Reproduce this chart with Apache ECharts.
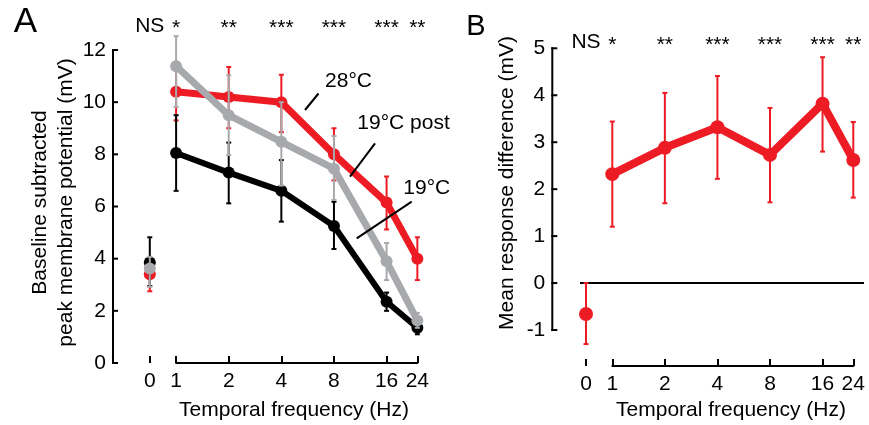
<!DOCTYPE html>
<html><head><meta charset="utf-8">
<script src="https://cdn.jsdelivr.net/npm/echarts@6/dist/echarts.min.js"></script>
<style>html,body{margin:0;padding:0;background:#fff}#c{width:869px;height:425px}</style>
</head><body><div id="c"></div><script>
// ---------- data ----------
const freqs = [0, 1, 2, 4, 8, 16, 24];
const freqLabels = ['0', '1', '2', '4', '8', '16', '24'];
const sigLabels = ['NS', '*', '**', '***', '***', '***', '**'];

// Panel A: 28°C
const warmMean = [3.4, 10.4, 10.2, 10.0, 8.0, 6.15, 4.0];
const warmLow  = [2.75, 9.3, 9.0, 8.85, 7.0, 5.12, 3.18];
const warmHigh = [3.95, 11.5, 11.35, 11.05, 9.0, 7.15, 4.82];
// Panel A: 19°C
const coolMean = [3.85, 8.05, 7.3, 6.6, 5.25, 2.35, 1.35];
const coolLow  = [2.95, 6.6, 6.12, 5.42, 4.37, 2.0, 1.1];
const coolHigh = [4.82, 9.5, 8.45, 7.78, 6.18, 2.7, 1.58];
// Panel A: 19°C post
const postMean = [3.62, 11.38, 9.5, 8.48, 7.45, 3.9, 1.63];
const postLow  = [2.92, 9.82, 7.97, 6.8, 6.25, 3.18, 1.35];
const postHigh = [4.07, 12.53, 11.03, 10.0, 8.7, 4.6, 1.92];
// Panel B: mean response difference
const diffMean = [-0.66, 2.32, 2.88, 3.32, 2.73, 3.82, 2.62];
const diffLow  = [-1.3, 1.2, 1.7, 2.22, 1.72, 2.8, 1.82];
const diffHigh = [0.0, 3.44, 4.05, 4.41, 3.73, 4.81, 3.43];

// y axis ticks
const yTicksA = [0, 2, 4, 6, 8, 10, 12];
const yTicksB = [-1, 0, 1, 2, 3, 4, 5];

// ---------- helpers ----------
const ZERO_POS = -0.5; // position of the 0 Hz point on the log2 axis (broken axis)
const xPos = f => f === 0 ? ZERO_POS : Math.log2(f);
const XMAX = Math.log2(24);
const FONT = '"Liberation Sans", Arial, Helvetica, sans-serif';
const RED = '#ED1C24', GRAY = '#A7A9AC', BLACK = '#000000';

const LA = { yAxisX: 113, x1: 176.1, ppo: 52.62, top: 50, bottom: 363, xAxisY: 363 };
const LB = { yAxisX: 552.3, x1: 612.3, ppo: 52.56, top: 48.3, bottom: 330, xAxisY: 366 };
LA.off = (LA.x1 - LA.yAxisX) / LA.ppo;
LB.off = (LB.x1 - LB.yAxisX) / LB.ppo;
LB.extraPx = 864; // right end of the zero line in panel B
LB.zeroStartPx = 580;

function xpx(L, v) { return L.x1 + L.ppo * v; }

const grids = [];
const xAxes = [];
const yAxes = [];
const series = [];

function tickLabel(v) {
  if (Math.abs(v - ZERO_POS) < 1e-6) return freqLabels[0];
  const f = Math.round(Math.pow(2, v));
  const i = freqs.indexOf(f);
  return i >= 0 ? freqLabels[i] : '';
}

function addPanel(L, yTicks, rightPx) {
  const gi = grids.length;
  const yMin = yTicks[0], yMax = yTicks[yTicks.length - 1];
  // main plot grid; x coordinate u = log2(f) + off, so u = 0 sits on the y axis
  grids.push({ left: L.yAxisX, top: L.top, width: rightPx - L.yAxisX, height: L.bottom - L.top });
  xAxes.push({ gridIndex: gi, type: 'value', min: 0, max: (rightPx - L.yAxisX) / L.ppo, show: false });
  yAxes.push({
    gridIndex: gi, type: 'value', min: yMin, max: yMax, interval: yTicks[1] - yTicks[0],
    axisLine: { show: false }, axisTick: { show: false },
    axisLabel: { show: true, margin: 7, color: BLACK, fontSize: 21, fontFamily: FONT },
    splitLine: { show: false }
  });
  // tick grid (0 .. 24)
  const x0 = xpx(L, ZERO_POS), xe = xpx(L, XMAX);
  grids.push({ left: x0, top: L.xAxisY - 1, width: xe - x0, height: 1 });
  const tickVals = freqs.map(xPos);
  xAxes.push({
    gridIndex: gi + 1, type: 'value', min: ZERO_POS, max: XMAX, position: 'bottom',
    axisLine: { show: false, onZero: false },
    axisTick: { show: true, inside: true, length: 7, lineStyle: { color: BLACK, width: 2 }, customValues: tickVals },
    axisLabel: { show: true, margin: 8, color: BLACK, fontSize: 21, fontFamily: FONT, customValues: tickVals, formatter: tickLabel },
    splitLine: { show: false }
  });
  yAxes.push({ gridIndex: gi + 1, type: 'value', show: false });
  // axis line grid (1 .. 24)
  const x1 = xpx(L, 0);
  grids.push({ left: x1, top: L.xAxisY - 1, width: xe - x1, height: 1 });
  xAxes.push({
    gridIndex: gi + 2, type: 'value', min: 0, max: XMAX, position: 'bottom',
    axisLine: { show: true, onZero: false, lineStyle: { color: BLACK, width: 2 } },
    axisTick: { show: false }, axisLabel: { show: false }, splitLine: { show: false }
  });
  yAxes.push({ gridIndex: gi + 2, type: 'value', show: false });
  return gi;
}

function errSeries(ai, L, low, high, color, z) {
  return {
    type: 'custom', xAxisIndex: ai, yAxisIndex: ai, z, clip: false, silent: true,
    data: freqs.map((f, i) => [xPos(f) + L.off, low[i], high[i]]),
    renderItem(params, api) {
      const x = api.value(0);
      const p1 = api.coord([x, api.value(1)]);
      const p2 = api.coord([x, api.value(2)]);
      const cw = 2.5, st = { stroke: color, lineWidth: 2 };
      return { type: 'group', children: [
        { type: 'line', shape: { x1: p1[0], y1: p1[1], x2: p2[0], y2: p2[1] }, style: st },
        { type: 'line', shape: { x1: p1[0] - cw, y1: p1[1], x2: p1[0] + cw, y2: p1[1] }, style: st },
        { type: 'line', shape: { x1: p2[0] - cw, y1: p2[1], x2: p2[0] + cw, y2: p2[1] }, style: st }
      ] };
    }
  };
}

function meanSeries(ai, L, mean, color, z, width, size) {
  const pts = freqs.map((f, i) => [xPos(f) + L.off, mean[i]]);
  return [
    {
      type: 'line', xAxisIndex: ai, yAxisIndex: ai, z, clip: false, silent: true,
      data: pts.slice(1), symbol: 'circle', symbolSize: size, showSymbol: true,
      lineStyle: { color, width, cap: 'round', join: 'round' }, itemStyle: { color, opacity: 1 }
    },
    {
      type: 'scatter', xAxisIndex: ai, yAxisIndex: ai, z, clip: false, silent: true,
      data: pts.slice(0, 1), symbol: 'circle', symbolSize: size, itemStyle: { color, opacity: 1 }
    }
  ];
}

function sigSeries(ai, L, yNS, yStar) {
  return {
    type: 'scatter', xAxisIndex: ai, yAxisIndex: ai, clip: false, silent: true, z: 20,
    symbolSize: 0, itemStyle: { opacity: 1 },
    data: freqs.map((f, i) => [xPos(f) + L.off, i === 0 ? yNS : yStar, sigLabels[i]]),
    label: { show: true, position: 'inside', color: BLACK, fontSize: 21, fontFamily: FONT,
      formatter: p => p.data[2] }
  };
}

// ---------- Panel A ----------
const a = addPanel(LA, yTicksA, xpx(LA, XMAX));
series.push(...meanSeries(a, LA, warmMean, RED, 2, 7, 12));
series.push(errSeries(a, LA, warmLow, warmHigh, RED, 3));
series.push(...meanSeries(a, LA, coolMean, BLACK, 4, 6, 12));
series.push(errSeries(a, LA, coolLow, coolHigh, BLACK, 5));
series.push(...meanSeries(a, LA, postMean, GRAY, 6, 7, 12));
series.push(errSeries(a, LA, postLow, postHigh, GRAY, 7));
series.push(sigSeries(a, LA, 12.92, 12.84));

// ---------- Panel B ----------
const b = addPanel(LB, yTicksB, LB.extraPx);
series.push({
  type: 'line', xAxisIndex: b, yAxisIndex: b, z: 1, clip: false, silent: true, symbol: 'none',
  data: [[(LB.zeroStartPx - LB.yAxisX) / LB.ppo, 0], [(LB.extraPx - LB.yAxisX) / LB.ppo, 0]],
  lineStyle: { color: BLACK, width: 2 }
});
series.push(...meanSeries(b, LB, diffMean, RED, 2, 8, 14));
series.push(errSeries(b, LB, diffLow, diffHigh, RED, 3));
series.push(sigSeries(b, LB, 5.13, 5.06));

// ---------- text annotations ----------
function txt(x, y, text, size, align, rot) {
  return { type: 'text', x, y, rotation: rot || 0, silent: true, z: 100,
    style: { text, fill: BLACK, font: size + 'px ' + FONT, textAlign: align || 'center',
      textVerticalAlign: 'middle', verticalAlign: 'middle', lineHeight: 26 } };
}
function seg(x1, y1, x2, y2) {
  return { type: 'line', silent: true, z: 100, shape: { x1, y1, x2, y2 }, style: { stroke: BLACK, lineWidth: 2 } };
}
const graphic = [
  txt(25.5, 22.5, 'A', 35),
  txt(476, 27, 'B', 29),
  txt(294, 410, 'Temporal frequency (Hz)', 21),
  txt(731, 410, 'Temporal frequency (Hz)', 21),
  txt(53.5, 202.5, 'Baseline subtracted\npeak membrane potential (mV)', 21, 'center', Math.PI / 2),
  txt(507.5, 183, 'Mean response difference (mV)', 21, 'center', Math.PI / 2),
  txt(348.5, 81, '28°C', 21),
  txt(357.3, 123, '19°C post', 21, 'left'),
  txt(403.3, 188, '19°C', 21, 'left'),
  seg(305, 110, 318.5, 93.5),
  seg(350, 176.7, 375, 143.3),
  seg(356.7, 238.3, 411.7, 201.7)
];

const chart = echarts.init(document.getElementById('c'), null, { renderer: 'canvas' });
chart.setOption({
  animation: false,
  backgroundColor: '#fff',
  textStyle: { fontFamily: FONT },
  grid: grids, xAxis: xAxes, yAxis: yAxes, series
});

// y axis lines and inward ticks, placed through each panel's own scale
function yAxisGraphics(gi, L, ticks) {
  const els = [];
  const toPx = v => {
    const p = chart.convertToPixel({ gridIndex: gi }, [0, v]);
    const x = (p && isFinite(p[0])) ? p[0] : L.yAxisX;
    const y = (p && isFinite(p[1])) ? p[1]
      : L.bottom - (v - ticks[0]) / (ticks[ticks.length - 1] - ticks[0]) * (L.bottom - L.top);
    return [x, y];
  };
  const pMin = toPx(ticks[0]), pMax = toPx(ticks[ticks.length - 1]);
  els.push(seg(pMin[0], pMin[1] + 1, pMax[0], pMax[1] - 1));
  ticks.forEach(v => {
    const p = toPx(v);
    els.push(seg(p[0] - 1, p[1], p[0] + 5, p[1]));
  });
  return els;
}
chart.setOption({
  graphic: graphic.concat(yAxisGraphics(a, LA, yTicksA), yAxisGraphics(b, LB, yTicksB))
});
</script></body></html>
